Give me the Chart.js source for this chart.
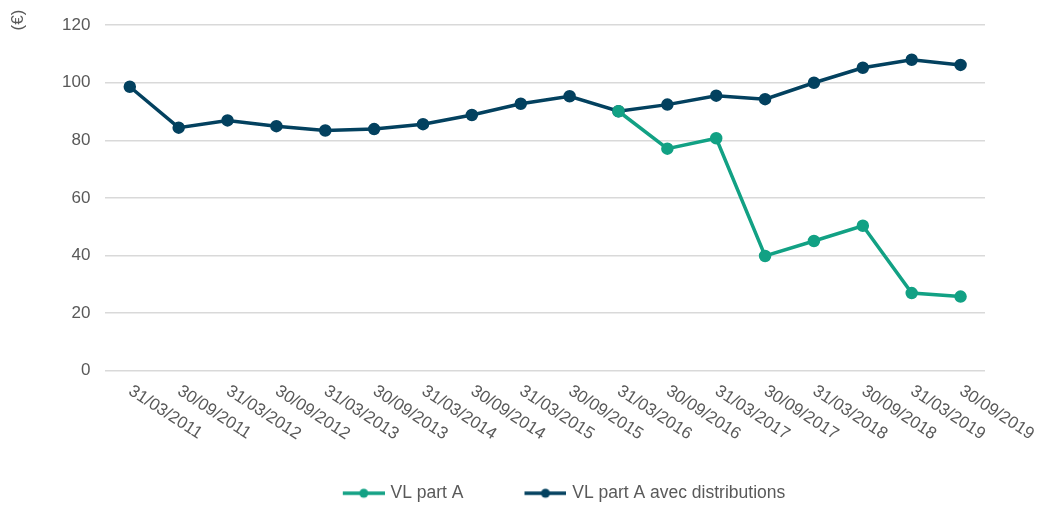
<!DOCTYPE html>
<html>
<head>
<meta charset="utf-8">
<script src="https://cdn.jsdelivr.net/npm/chart.js@4"></script>
<style>
  html, body { margin: 0; padding: 0; background: #fff; }
  #wrap { width: 1044px; height: 506px; }
</style>
</head>
<body>
<div id="wrap"><canvas id="myChart"></canvas></div>
<script>
const dates = ['31/03/2011', '30/09/2011', '31/03/2012', '30/09/2012', '31/03/2013', '30/09/2013',
  '31/03/2014', '30/09/2014', '31/03/2015', '30/09/2015', '31/03/2016', '30/09/2016',
  '31/03/2017', '30/09/2017', '31/03/2018', '30/09/2018', '31/03/2019', '30/09/2019'];

const vlPartA = [null, null, null, null, null, null, null, null, null, null,
  90.1, 77.1, 80.7, 39.8, 45.0, 50.3, 26.9, 25.7];

const vlAvecDistrib = [98.6, 84.4, 86.9, 84.9, 83.4, 83.9, 85.6, 88.8, 92.7, 95.3,
  90.1, 92.4, 95.5, 94.3, 100.0, 105.2, 108.0, 106.2];

const yTicks = [0, 20, 40, 60, 80, 100, 120];

const green = '#12a184';
const navy = '#03415f';
const textColor = '#595959';
const fontFamily = '"Liberation Sans", Arial, sans-serif';

// little line + dot marker for the legend (transparent space on the left = gap between items)
const legendMarker = (color) => {
  const c = document.createElement('canvas');
  c.width = 106;
  c.height = 12;
  const g = c.getContext('2d');
  g.strokeStyle = color;
  g.lineWidth = 3.5;
  g.beginPath();
  g.moveTo(64, 6);
  g.lineTo(106, 6);
  g.stroke();
  g.fillStyle = color;
  g.beginPath();
  g.arc(85, 6, 4.5, 0, Math.PI * 2);
  g.fill();
  return c;
};

const markers = [legendMarker(green), legendMarker(navy)];

// x labels slanting down to the right, drawn at each tick of the x scale
// plus the "(€)" unit at the top left
const extraText = {
  id: 'extraText',
  afterLayout(chart) {
    // legend sits a bit right of the page centre
    chart.legend.left += 17.5;
    chart.legend.right += 17.5;
  },
  afterDraw(chart) {
    const xScale = chart.scales.x;
    const ctx = chart.ctx;
    ctx.save();
    ctx.font = '17px ' + fontFamily;
    ctx.fillStyle = textColor;
    ctx.textAlign = 'left';
    ctx.textBaseline = 'top';
    dates.forEach((d, i) => {
      const x = xScale.getPixelForTick(i);
      ctx.save();
      ctx.translate(x + 5, xScale.top + 12);
      ctx.rotate(33 * Math.PI / 180);
      ctx.fillText(d, 0, 0);
      ctx.restore();
    });

    ctx.translate(18, 20);
    ctx.rotate(-Math.PI / 2);
    ctx.textAlign = 'center';
    ctx.textBaseline = 'middle';
    ctx.fillText('(€)', 0, 0);
    ctx.restore();
  }
};

const ctx = document.getElementById('myChart').getContext('2d');
const myChart = new Chart(ctx, {
  type: 'line',
  data: {
    labels: dates,
    datasets: [{
      label: 'VL part A',
      data: vlPartA,
      borderColor: green,
      backgroundColor: green,
      borderWidth: 3.5,
      pointRadius: 4.5,
      pointHoverRadius: 4.5,
      tension: 0
    }, {
      label: 'VL part A avec distributions',
      data: vlAvecDistrib,
      borderColor: navy,
      backgroundColor: navy,
      borderWidth: 3.5,
      pointRadius: 4.5,
      pointHoverRadius: 4.5,
      tension: 0
    }]
  },
  options: {
    responsive: true,
    maintainAspectRatio: false,
    animation: false,
    layout: { padding: { top: 9.5, left: 47, right: 59, bottom: -6 } },
    plugins: {
      tooltip: { enabled: false },
      legend: {
        position: 'bottom',
        labels: {
          usePointStyle: true,
          pointStyleWidth: 100,
          color: textColor,
          padding: 0,
          font: { size: 17.5, family: fontFamily },
          generateLabels(chart) {
            const items = Chart.defaults.plugins.legend.labels.generateLabels(chart);
            items.forEach((it, i) => { it.pointStyle = markers[i]; });
            return items;
          }
        }
      }
    },
    scales: {
      x: {
        offset: true,
        grid: { display: false },
        border: { display: false },
        ticks: { display: false },
        afterFit(scale) { scale.height = 114; }
      },
      y: {
        min: 0,
        max: 120,
        afterBuildTicks(scale) { scale.ticks = yTicks.map(v => ({ value: v })); },
        grid: { color: '#d9d9d9', lineWidth: 1.5, drawTicks: false },
        border: { display: false },
        ticks: {
          color: textColor,
          padding: 15,
          font: { size: 17, family: fontFamily }
        }
      }
    }
  },
  plugins: [extraText]
});
</script>
</body>
</html>
